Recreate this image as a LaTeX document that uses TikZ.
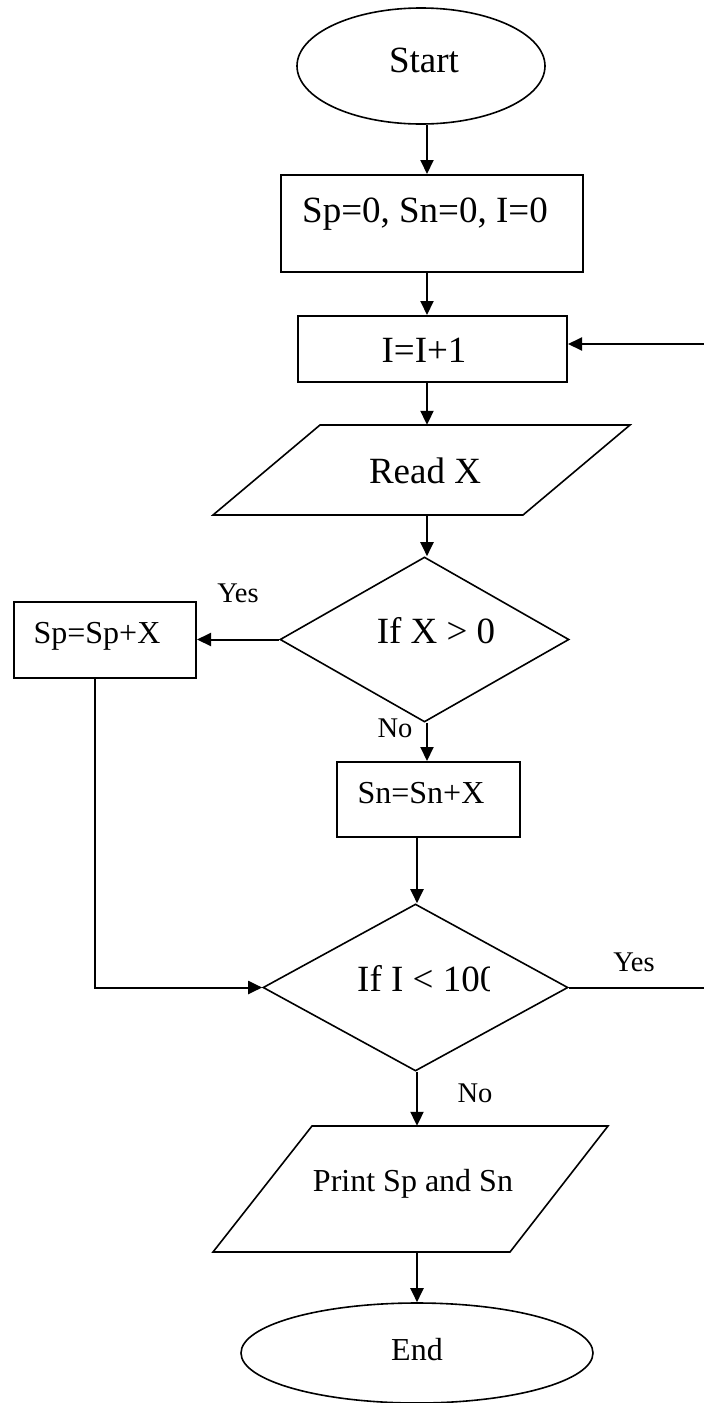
\documentclass[tikz,border=0pt]{standalone}
\usepackage{fontspec}
\setmainfont{Liberation Serif}
\usetikzlibrary{shapes.geometric,arrows.meta}
\begin{document}
\begin{tikzpicture}[x=1pt,y=-1pt,
  box/.style={draw,line width=2pt,rectangle,inner sep=0pt},
  oval/.style={draw,line width=1.6pt,ellipse,inner sep=0pt},
  dia/.style={draw,line width=1.6pt,diamond,inner sep=0pt},
  par/.style={draw,line width=1.6pt,line join=miter},
  txt/.style={inner sep=0pt,anchor=base,font=\fontsize{37}{44}\selectfont},
  stxt/.style={inner sep=0pt,anchor=base,font=\fontsize{32}{38}\selectfont},
  lbl/.style={inner sep=0pt,anchor=base,font=\fontsize{28.5}{34}\selectfont},
  arr/.style={line width=2pt,-{Triangle[length=14pt,width=13pt]}},
  ln/.style={line width=2pt}]

\useasboundingbox[fill=white] (0,0) rectangle (704,1403);

% shapes
\node[oval,minimum width=248pt,minimum height=116pt] (start) at (421,66) {};
\node[box,minimum width=302pt,minimum height=97pt] (b1) at (432,223.5) {};
\node[box,minimum width=269pt,minimum height=66pt] (b2) at (432.5,349) {};
\node[inner sep=0pt,minimum width=310pt,minimum height=90pt] (readx) at (427,470) {};
\draw[par] (320,425) -- (630,425) -- (523,515) -- (213,515) -- cycle;
\node[dia,minimum width=289pt,minimum height=165pt] (d1) at (424.5,639.5) {};
\node[box,minimum width=182pt,minimum height=76pt] (sp) at (105,640) {};
\node[box,minimum width=183pt,minimum height=75pt] (sn) at (428.5,799.5) {};
\node[dia,minimum width=305pt,minimum height=167pt] (d2) at (415.5,987.5) {};
\node[inner sep=0pt,minimum width=297pt,minimum height=126pt] (pr) at (416,1189) {};
\draw[par] (312,1126) -- (608,1126) -- (510,1252) -- (213,1252) -- cycle;
\node[oval,minimum width=352pt,minimum height=100pt] (end) at (417,1353) {};

% texts
\node[txt] (tstart) at (424,72) {Start};
\node[txt] (tb1) at (425,222) {Sp=0, Sn=0, I=0};
\node[txt] (tb2) at (424,362) {I=I+1};
\node[txt] (tread) at (425,483) {Read X};
\node[txt] (td1) at (436,643) {If X > 0};
\node[stxt] (tsp) at (97,643) {Sp=Sp+X};
\node[stxt] (tsn) at (421,803) {Sn=Sn+X};
\begin{scope}
  \clip (300,940) rectangle (489,1010);
  \node[txt,anchor=base west] (td2) at (357,991) {If I < 100};
\end{scope}
\node[stxt] (tpr) at (413,1191) {Print Sp and Sn};
\node[stxt] (tend) at (417,1360) {End};

% labels
\node[lbl] (yes1) at (238,602) {Yes};
\node[lbl] (no1) at (395,737) {No};
\node[lbl] (yes2) at (634,971) {Yes};
\node[lbl] (no2) at (475,1102) {No};

% connectors
\coordinate (sx) at (427,0);
\coordinate (tx) at (417,0);
\draw[arr] (start.south -| sx) -- (b1.north -| sx);
\draw[arr] (b1.south -| sx) -- (b2.north -| sx);
\draw[arr] (b2.south -| sx) -- (readx.north -| sx);
\draw[arr] (readx.south -| sx) -- (d1.north -| sx);
\draw[arr] (d1.west) -- (sp.east |- d1.west);
\draw[arr] (d1.south -| sx) -- (sn.north -| sx);
\draw[arr] (sn.south -| tx) -- (d2.north -| tx);
\draw[arr] ([xshift=-10pt]sp.south) |- (d2.west);
\draw[arr] (d2.east) -- (716,987.5) |- ([yshift=5pt]b2.east);
\draw[arr] (d2.south -| tx) -- (pr.north -| tx);
\draw[arr] (pr.south -| tx) -- (end.north -| tx);
\end{tikzpicture}
\end{document}
